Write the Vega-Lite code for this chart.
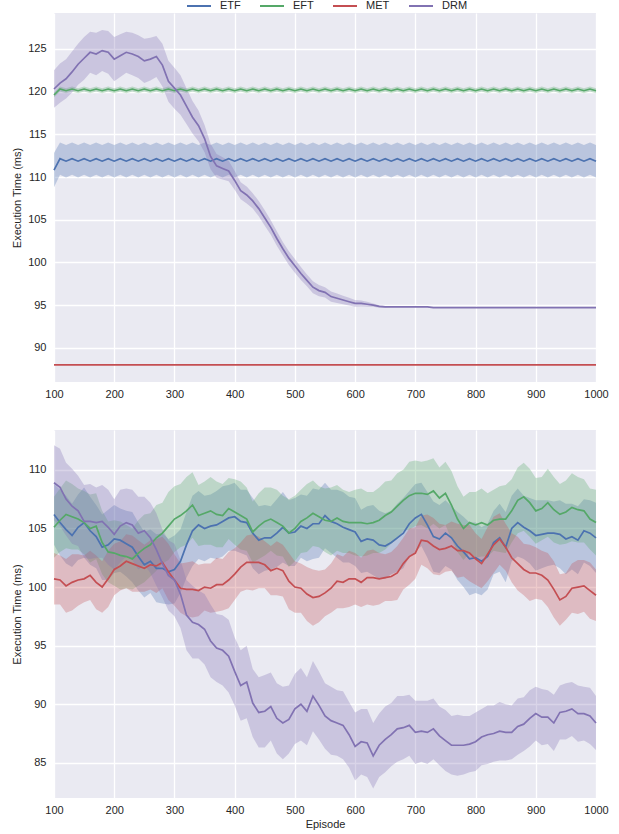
{
"$schema": "https://vega.github.io/schema/vega-lite/v6.json",
"autosize": {"type": "pad"},
"padding": {"left": 11, "top": -7, "right": 5, "bottom": 5},
"background": "#ffffff",
"spacing": 48,
"bounds": "flush",
"config": {
  "view": {"fill": "#EAEAF2", "stroke": null},
  "font": "Liberation Sans",
  "axis": {"domain": false, "ticks": false, "gridColor": "#ffffff", "gridWidth": 1.3, "labelFontSize": 11, "labelColor": "#262626", "titleFontSize": 11, "titleFontWeight": "normal", "titleColor": "#262626", "labelPadding": 6, "labelFlush": false},
  "axisY": {"titlePadding": 5, "labelPadding": 8},
  "axisX": {"titlePadding": 3, "format": "d"},
  "legend": {"symbolType": "stroke", "symbolStrokeWidth": 2, "symbolSize": 576, "labelFontSize": 11, "labelColor": "#262626", "labelOffset": 8, "columnPadding": 15, "padding": 0, "symbolOpacity": 1}
},
"datasets": {"d": [
{"p":"t","s":"ETF","x":100,"m":110.8,"w":2.0},{"p":"t","s":"ETF","x":110,"m":112.15,"w":1.9},{"p":"t","s":"ETF","x":120,"m":111.85,"w":1.9},{"p":"t","s":"ETF","x":130,"m":112.15,"w":1.9},{"p":"t","s":"ETF","x":140,"m":111.85,"w":1.9},{"p":"t","s":"ETF","x":150,"m":112.15,"w":1.9},{"p":"t","s":"ETF","x":160,"m":111.85,"w":1.9},{"p":"t","s":"ETF","x":170,"m":112.15,"w":1.9},{"p":"t","s":"ETF","x":180,"m":111.85,"w":1.9},{"p":"t","s":"ETF","x":190,"m":112.15,"w":1.9},{"p":"t","s":"ETF","x":200,"m":111.85,"w":1.9},
{"p":"t","s":"ETF","x":210,"m":112.15,"w":1.9},{"p":"t","s":"ETF","x":220,"m":111.85,"w":1.9},{"p":"t","s":"ETF","x":230,"m":112.15,"w":1.9},{"p":"t","s":"ETF","x":240,"m":111.85,"w":1.9},{"p":"t","s":"ETF","x":250,"m":112.15,"w":1.9},{"p":"t","s":"ETF","x":260,"m":111.85,"w":1.9},{"p":"t","s":"ETF","x":270,"m":112.15,"w":1.9},{"p":"t","s":"ETF","x":280,"m":111.85,"w":1.9},{"p":"t","s":"ETF","x":290,"m":112.15,"w":1.9},{"p":"t","s":"ETF","x":300,"m":111.85,"w":1.9},
{"p":"t","s":"ETF","x":310,"m":112.15,"w":1.9},{"p":"t","s":"ETF","x":320,"m":111.85,"w":1.9},{"p":"t","s":"ETF","x":330,"m":112.15,"w":1.9},{"p":"t","s":"ETF","x":340,"m":111.85,"w":1.9},{"p":"t","s":"ETF","x":350,"m":112.15,"w":1.9},{"p":"t","s":"ETF","x":360,"m":111.85,"w":1.9},{"p":"t","s":"ETF","x":370,"m":112.15,"w":1.9},{"p":"t","s":"ETF","x":380,"m":111.85,"w":1.9},{"p":"t","s":"ETF","x":390,"m":112.15,"w":1.9},{"p":"t","s":"ETF","x":400,"m":111.85,"w":1.9},
{"p":"t","s":"ETF","x":410,"m":112.15,"w":1.9},{"p":"t","s":"ETF","x":420,"m":111.85,"w":1.9},{"p":"t","s":"ETF","x":430,"m":112.15,"w":1.9},{"p":"t","s":"ETF","x":440,"m":111.85,"w":1.9},{"p":"t","s":"ETF","x":450,"m":112.15,"w":1.9},{"p":"t","s":"ETF","x":460,"m":111.85,"w":1.9},{"p":"t","s":"ETF","x":470,"m":112.15,"w":1.9},{"p":"t","s":"ETF","x":480,"m":111.85,"w":1.9},{"p":"t","s":"ETF","x":490,"m":112.15,"w":1.9},{"p":"t","s":"ETF","x":500,"m":111.85,"w":1.9},
{"p":"t","s":"ETF","x":510,"m":112.15,"w":1.9},{"p":"t","s":"ETF","x":520,"m":111.85,"w":1.9},{"p":"t","s":"ETF","x":530,"m":112.15,"w":1.9},{"p":"t","s":"ETF","x":540,"m":111.85,"w":1.9},{"p":"t","s":"ETF","x":550,"m":112.15,"w":1.9},{"p":"t","s":"ETF","x":560,"m":111.85,"w":1.9},{"p":"t","s":"ETF","x":570,"m":112.15,"w":1.9},{"p":"t","s":"ETF","x":580,"m":111.85,"w":1.9},{"p":"t","s":"ETF","x":590,"m":112.15,"w":1.9},{"p":"t","s":"ETF","x":600,"m":111.85,"w":1.9},
{"p":"t","s":"ETF","x":610,"m":112.15,"w":1.9},{"p":"t","s":"ETF","x":620,"m":111.85,"w":1.9},{"p":"t","s":"ETF","x":630,"m":112.15,"w":1.9},{"p":"t","s":"ETF","x":640,"m":111.85,"w":1.9},{"p":"t","s":"ETF","x":650,"m":112.15,"w":1.9},{"p":"t","s":"ETF","x":660,"m":111.85,"w":1.9},{"p":"t","s":"ETF","x":670,"m":112.15,"w":1.9},{"p":"t","s":"ETF","x":680,"m":111.85,"w":1.9},{"p":"t","s":"ETF","x":690,"m":112.15,"w":1.9},{"p":"t","s":"ETF","x":700,"m":111.85,"w":1.9},
{"p":"t","s":"ETF","x":710,"m":112.15,"w":1.9},{"p":"t","s":"ETF","x":720,"m":111.85,"w":1.9},{"p":"t","s":"ETF","x":730,"m":112.15,"w":1.9},{"p":"t","s":"ETF","x":740,"m":111.85,"w":1.9},{"p":"t","s":"ETF","x":750,"m":112.15,"w":1.9},{"p":"t","s":"ETF","x":760,"m":111.85,"w":1.9},{"p":"t","s":"ETF","x":770,"m":112.15,"w":1.9},{"p":"t","s":"ETF","x":780,"m":111.85,"w":1.9},{"p":"t","s":"ETF","x":790,"m":112.15,"w":1.9},{"p":"t","s":"ETF","x":800,"m":111.85,"w":1.9},
{"p":"t","s":"ETF","x":810,"m":112.15,"w":1.9},{"p":"t","s":"ETF","x":820,"m":111.85,"w":1.9},{"p":"t","s":"ETF","x":830,"m":112.15,"w":1.9},{"p":"t","s":"ETF","x":840,"m":111.85,"w":1.9},{"p":"t","s":"ETF","x":850,"m":112.15,"w":1.9},{"p":"t","s":"ETF","x":860,"m":111.85,"w":1.9},{"p":"t","s":"ETF","x":870,"m":112.15,"w":1.9},{"p":"t","s":"ETF","x":880,"m":111.85,"w":1.9},{"p":"t","s":"ETF","x":890,"m":112.15,"w":1.9},{"p":"t","s":"ETF","x":900,"m":111.85,"w":1.9},
{"p":"t","s":"ETF","x":910,"m":112.15,"w":1.9},{"p":"t","s":"ETF","x":920,"m":111.85,"w":1.9},{"p":"t","s":"ETF","x":930,"m":112.15,"w":1.9},{"p":"t","s":"ETF","x":940,"m":111.85,"w":1.9},{"p":"t","s":"ETF","x":950,"m":112.15,"w":1.9},{"p":"t","s":"ETF","x":960,"m":111.85,"w":1.9},{"p":"t","s":"ETF","x":970,"m":112.15,"w":1.9},{"p":"t","s":"ETF","x":980,"m":111.85,"w":1.9},{"p":"t","s":"ETF","x":990,"m":112.15,"w":1.9},{"p":"t","s":"ETF","x":1000,"m":111.85,"w":1.9},
{"p":"t","s":"EFT","x":100,"m":119.6,"w":0.3},{"p":"t","s":"EFT","x":110,"m":120.3,"w":0.3},{"p":"t","s":"EFT","x":120,"m":120.1,"w":0.3},{"p":"t","s":"EFT","x":130,"m":120.3,"w":0.3},{"p":"t","s":"EFT","x":140,"m":120.1,"w":0.3},{"p":"t","s":"EFT","x":150,"m":120.3,"w":0.3},{"p":"t","s":"EFT","x":160,"m":120.1,"w":0.3},{"p":"t","s":"EFT","x":170,"m":120.3,"w":0.3},{"p":"t","s":"EFT","x":180,"m":120.1,"w":0.3},{"p":"t","s":"EFT","x":190,"m":120.3,"w":0.3},{"p":"t","s":"EFT","x":200,"m":120.1,"w":0.3},
{"p":"t","s":"EFT","x":210,"m":120.3,"w":0.3},{"p":"t","s":"EFT","x":220,"m":120.1,"w":0.3},{"p":"t","s":"EFT","x":230,"m":120.3,"w":0.3},{"p":"t","s":"EFT","x":240,"m":120.1,"w":0.3},{"p":"t","s":"EFT","x":250,"m":120.3,"w":0.3},{"p":"t","s":"EFT","x":260,"m":120.1,"w":0.3},{"p":"t","s":"EFT","x":270,"m":120.3,"w":0.3},{"p":"t","s":"EFT","x":280,"m":120.1,"w":0.3},{"p":"t","s":"EFT","x":290,"m":120.3,"w":0.3},{"p":"t","s":"EFT","x":300,"m":120.1,"w":0.3},
{"p":"t","s":"EFT","x":310,"m":120.3,"w":0.3},{"p":"t","s":"EFT","x":320,"m":120.1,"w":0.3},{"p":"t","s":"EFT","x":330,"m":120.3,"w":0.3},{"p":"t","s":"EFT","x":340,"m":120.1,"w":0.3},{"p":"t","s":"EFT","x":350,"m":120.3,"w":0.3},{"p":"t","s":"EFT","x":360,"m":120.1,"w":0.3},{"p":"t","s":"EFT","x":370,"m":120.3,"w":0.3},{"p":"t","s":"EFT","x":380,"m":120.1,"w":0.3},{"p":"t","s":"EFT","x":390,"m":120.3,"w":0.3},{"p":"t","s":"EFT","x":400,"m":120.1,"w":0.3},
{"p":"t","s":"EFT","x":410,"m":120.3,"w":0.3},{"p":"t","s":"EFT","x":420,"m":120.1,"w":0.3},{"p":"t","s":"EFT","x":430,"m":120.3,"w":0.3},{"p":"t","s":"EFT","x":440,"m":120.1,"w":0.3},{"p":"t","s":"EFT","x":450,"m":120.3,"w":0.3},{"p":"t","s":"EFT","x":460,"m":120.1,"w":0.3},{"p":"t","s":"EFT","x":470,"m":120.3,"w":0.3},{"p":"t","s":"EFT","x":480,"m":120.1,"w":0.3},{"p":"t","s":"EFT","x":490,"m":120.3,"w":0.3},{"p":"t","s":"EFT","x":500,"m":120.1,"w":0.3},
{"p":"t","s":"EFT","x":510,"m":120.3,"w":0.3},{"p":"t","s":"EFT","x":520,"m":120.1,"w":0.3},{"p":"t","s":"EFT","x":530,"m":120.3,"w":0.3},{"p":"t","s":"EFT","x":540,"m":120.1,"w":0.3},{"p":"t","s":"EFT","x":550,"m":120.3,"w":0.3},{"p":"t","s":"EFT","x":560,"m":120.1,"w":0.3},{"p":"t","s":"EFT","x":570,"m":120.3,"w":0.3},{"p":"t","s":"EFT","x":580,"m":120.1,"w":0.3},{"p":"t","s":"EFT","x":590,"m":120.3,"w":0.3},{"p":"t","s":"EFT","x":600,"m":120.1,"w":0.3},
{"p":"t","s":"EFT","x":610,"m":120.3,"w":0.3},{"p":"t","s":"EFT","x":620,"m":120.1,"w":0.3},{"p":"t","s":"EFT","x":630,"m":120.3,"w":0.3},{"p":"t","s":"EFT","x":640,"m":120.1,"w":0.3},{"p":"t","s":"EFT","x":650,"m":120.3,"w":0.3},{"p":"t","s":"EFT","x":660,"m":120.1,"w":0.3},{"p":"t","s":"EFT","x":670,"m":120.3,"w":0.3},{"p":"t","s":"EFT","x":680,"m":120.1,"w":0.3},{"p":"t","s":"EFT","x":690,"m":120.3,"w":0.3},{"p":"t","s":"EFT","x":700,"m":120.1,"w":0.3},
{"p":"t","s":"EFT","x":710,"m":120.3,"w":0.3},{"p":"t","s":"EFT","x":720,"m":120.1,"w":0.3},{"p":"t","s":"EFT","x":730,"m":120.3,"w":0.3},{"p":"t","s":"EFT","x":740,"m":120.1,"w":0.3},{"p":"t","s":"EFT","x":750,"m":120.3,"w":0.3},{"p":"t","s":"EFT","x":760,"m":120.1,"w":0.3},{"p":"t","s":"EFT","x":770,"m":120.3,"w":0.3},{"p":"t","s":"EFT","x":780,"m":120.1,"w":0.3},{"p":"t","s":"EFT","x":790,"m":120.3,"w":0.3},{"p":"t","s":"EFT","x":800,"m":120.1,"w":0.3},
{"p":"t","s":"EFT","x":810,"m":120.3,"w":0.3},{"p":"t","s":"EFT","x":820,"m":120.1,"w":0.3},{"p":"t","s":"EFT","x":830,"m":120.3,"w":0.3},{"p":"t","s":"EFT","x":840,"m":120.1,"w":0.3},{"p":"t","s":"EFT","x":850,"m":120.3,"w":0.3},{"p":"t","s":"EFT","x":860,"m":120.1,"w":0.3},{"p":"t","s":"EFT","x":870,"m":120.3,"w":0.3},{"p":"t","s":"EFT","x":880,"m":120.1,"w":0.3},{"p":"t","s":"EFT","x":890,"m":120.3,"w":0.3},{"p":"t","s":"EFT","x":900,"m":120.1,"w":0.3},
{"p":"t","s":"EFT","x":910,"m":120.3,"w":0.3},{"p":"t","s":"EFT","x":920,"m":120.1,"w":0.3},{"p":"t","s":"EFT","x":930,"m":120.3,"w":0.3},{"p":"t","s":"EFT","x":940,"m":120.1,"w":0.3},{"p":"t","s":"EFT","x":950,"m":120.3,"w":0.3},{"p":"t","s":"EFT","x":960,"m":120.1,"w":0.3},{"p":"t","s":"EFT","x":970,"m":120.3,"w":0.3},{"p":"t","s":"EFT","x":980,"m":120.1,"w":0.3},{"p":"t","s":"EFT","x":990,"m":120.3,"w":0.3},{"p":"t","s":"EFT","x":1000,"m":120.1,"w":0.3},
{"p":"t","s":"MET","x":100,"m":88.0,"w":0},{"p":"t","s":"MET","x":1000,"m":88.0,"w":0},
{"p":"t","s":"DRM","x":100,"m":120.3,"w":2.2},{"p":"t","s":"DRM","x":110,"m":121.0,"w":2.3},{"p":"t","s":"DRM","x":120,"m":121.5,"w":2.3},{"p":"t","s":"DRM","x":130,"m":122.3,"w":2.4},{"p":"t","s":"DRM","x":140,"m":123.2,"w":2.4},{"p":"t","s":"DRM","x":150,"m":123.9,"w":2.5},{"p":"t","s":"DRM","x":160,"m":124.6,"w":2.4},{"p":"t","s":"DRM","x":170,"m":124.4,"w":2.5},{"p":"t","s":"DRM","x":180,"m":124.8,"w":2.4},{"p":"t","s":"DRM","x":190,"m":124.6,"w":2.5},{"p":"t","s":"DRM","x":200,"m":123.8,"w":2.6},
{"p":"t","s":"DRM","x":210,"m":124.2,"w":2.5},{"p":"t","s":"DRM","x":220,"m":124.6,"w":2.4},{"p":"t","s":"DRM","x":230,"m":124.4,"w":2.5},{"p":"t","s":"DRM","x":240,"m":124.1,"w":2.5},{"p":"t","s":"DRM","x":250,"m":123.6,"w":2.6},{"p":"t","s":"DRM","x":260,"m":123.8,"w":2.5},{"p":"t","s":"DRM","x":270,"m":124.1,"w":2.4},{"p":"t","s":"DRM","x":280,"m":123.1,"w":2.5},{"p":"t","s":"DRM","x":290,"m":121.2,"w":2.4},{"p":"t","s":"DRM","x":300,"m":120.4,"w":2.4},
{"p":"t","s":"DRM","x":310,"m":119.6,"w":2.3},{"p":"t","s":"DRM","x":320,"m":118.3,"w":2.1},{"p":"t","s":"DRM","x":330,"m":117.0,"w":1.9},{"p":"t","s":"DRM","x":340,"m":116.0,"w":1.8},{"p":"t","s":"DRM","x":350,"m":114.5,"w":1.6},{"p":"t","s":"DRM","x":360,"m":112.4,"w":1.5},{"p":"t","s":"DRM","x":370,"m":111.3,"w":1.4},{"p":"t","s":"DRM","x":380,"m":111.0,"w":1.3},{"p":"t","s":"DRM","x":390,"m":110.7,"w":1.2},{"p":"t","s":"DRM","x":400,"m":109.6,"w":1.1},
{"p":"t","s":"DRM","x":410,"m":108.4,"w":1.0},{"p":"t","s":"DRM","x":420,"m":107.9,"w":1.0},{"p":"t","s":"DRM","x":430,"m":107.2,"w":0.9},{"p":"t","s":"DRM","x":440,"m":106.3,"w":0.9},{"p":"t","s":"DRM","x":450,"m":105.2,"w":0.9},{"p":"t","s":"DRM","x":460,"m":104.1,"w":0.85},{"p":"t","s":"DRM","x":470,"m":102.8,"w":0.85},{"p":"t","s":"DRM","x":480,"m":101.6,"w":0.8},{"p":"t","s":"DRM","x":490,"m":100.5,"w":0.8},{"p":"t","s":"DRM","x":500,"m":99.6,"w":0.8},
{"p":"t","s":"DRM","x":510,"m":98.7,"w":0.75},{"p":"t","s":"DRM","x":520,"m":97.9,"w":0.7},{"p":"t","s":"DRM","x":530,"m":97.1,"w":0.7},{"p":"t","s":"DRM","x":540,"m":96.7,"w":0.65},{"p":"t","s":"DRM","x":550,"m":96.5,"w":0.6},{"p":"t","s":"DRM","x":560,"m":96.0,"w":0.6},{"p":"t","s":"DRM","x":570,"m":95.8,"w":0.55},{"p":"t","s":"DRM","x":580,"m":95.6,"w":0.5},{"p":"t","s":"DRM","x":590,"m":95.4,"w":0.45},{"p":"t","s":"DRM","x":600,"m":95.2,"w":0.4},
{"p":"t","s":"DRM","x":610,"m":95.2,"w":0.35},{"p":"t","s":"DRM","x":620,"m":95.1,"w":0.3},{"p":"t","s":"DRM","x":630,"m":95.0,"w":0.2},{"p":"t","s":"DRM","x":640,"m":94.85,"w":0.15},{"p":"t","s":"DRM","x":650,"m":94.8,"w":0.1},{"p":"t","s":"DRM","x":660,"m":94.8,"w":0.05},{"p":"t","s":"DRM","x":700,"m":94.8,"w":0.05},{"p":"t","s":"DRM","x":720,"m":94.8,"w":0.03},{"p":"t","s":"DRM","x":730,"m":94.7,"w":0.02},{"p":"t","s":"DRM","x":1000,"m":94.7,"w":0.02},

{"p":"b","s":"ETF","x":100,"m":106.2,"w":2.6},{"p":"b","s":"ETF","x":110,"m":105.5,"w":2.8},{"p":"b","s":"ETF","x":120,"m":104.9,"w":2.9},{"p":"b","s":"ETF","x":130,"m":104.4,"w":2.7},{"p":"b","s":"ETF","x":140,"m":105.1,"w":2.8},{"p":"b","s":"ETF","x":150,"m":105.5,"w":3.0},{"p":"b","s":"ETF","x":160,"m":104.8,"w":2.9},{"p":"b","s":"ETF","x":170,"m":104.3,"w":2.7},{"p":"b","s":"ETF","x":180,"m":103.4,"w":2.8},{"p":"b","s":"ETF","x":190,"m":103.6,"w":3.0},{"p":"b","s":"ETF","x":200,"m":104.1,"w":2.9},
{"p":"b","s":"ETF","x":210,"m":104.0,"w":2.7},{"p":"b","s":"ETF","x":220,"m":103.7,"w":2.8},{"p":"b","s":"ETF","x":230,"m":103.4,"w":3.0},{"p":"b","s":"ETF","x":240,"m":102.6,"w":2.9},{"p":"b","s":"ETF","x":250,"m":101.9,"w":2.8},{"p":"b","s":"ETF","x":260,"m":102.2,"w":2.7},{"p":"b","s":"ETF","x":270,"m":101.6,"w":2.9},{"p":"b","s":"ETF","x":280,"m":101.6,"w":3.0},{"p":"b","s":"ETF","x":290,"m":101.3,"w":2.8},{"p":"b","s":"ETF","x":300,"m":101.5,"w":2.9},
{"p":"b","s":"ETF","x":310,"m":102.2,"w":2.7},{"p":"b","s":"ETF","x":320,"m":103.6,"w":2.8},{"p":"b","s":"ETF","x":330,"m":104.8,"w":3.0},{"p":"b","s":"ETF","x":340,"m":105.3,"w":2.9},{"p":"b","s":"ETF","x":350,"m":105.0,"w":2.8},{"p":"b","s":"ETF","x":360,"m":105.2,"w":2.7},{"p":"b","s":"ETF","x":370,"m":105.3,"w":2.9},{"p":"b","s":"ETF","x":380,"m":105.6,"w":3.0},{"p":"b","s":"ETF","x":390,"m":105.9,"w":2.8},{"p":"b","s":"ETF","x":400,"m":106.0,"w":2.9},
{"p":"b","s":"ETF","x":410,"m":105.6,"w":2.7},{"p":"b","s":"ETF","x":420,"m":105.5,"w":2.8},{"p":"b","s":"ETF","x":430,"m":104.6,"w":3.0},{"p":"b","s":"ETF","x":440,"m":104.0,"w":2.9},{"p":"b","s":"ETF","x":450,"m":104.2,"w":2.8},{"p":"b","s":"ETF","x":460,"m":104.2,"w":2.7},{"p":"b","s":"ETF","x":470,"m":104.6,"w":2.9},{"p":"b","s":"ETF","x":480,"m":105.1,"w":3.0},{"p":"b","s":"ETF","x":490,"m":104.6,"w":2.8},{"p":"b","s":"ETF","x":500,"m":104.7,"w":2.9},
{"p":"b","s":"ETF","x":510,"m":105.2,"w":2.7},{"p":"b","s":"ETF","x":520,"m":105.0,"w":2.8},{"p":"b","s":"ETF","x":530,"m":105.4,"w":3.0},{"p":"b","s":"ETF","x":540,"m":105.4,"w":2.9},{"p":"b","s":"ETF","x":550,"m":106.1,"w":2.8},{"p":"b","s":"ETF","x":560,"m":105.6,"w":2.7},{"p":"b","s":"ETF","x":570,"m":105.4,"w":2.9},{"p":"b","s":"ETF","x":580,"m":105.1,"w":3.0},{"p":"b","s":"ETF","x":590,"m":104.9,"w":2.8},{"p":"b","s":"ETF","x":600,"m":104.7,"w":2.9},
{"p":"b","s":"ETF","x":610,"m":103.9,"w":2.7},{"p":"b","s":"ETF","x":620,"m":104.1,"w":2.8},{"p":"b","s":"ETF","x":630,"m":104.0,"w":3.0},{"p":"b","s":"ETF","x":640,"m":103.6,"w":2.9},{"p":"b","s":"ETF","x":650,"m":103.5,"w":2.8},{"p":"b","s":"ETF","x":660,"m":103.8,"w":2.7},{"p":"b","s":"ETF","x":670,"m":104.2,"w":2.9},{"p":"b","s":"ETF","x":680,"m":104.6,"w":3.0},{"p":"b","s":"ETF","x":690,"m":105.4,"w":2.8},{"p":"b","s":"ETF","x":700,"m":105.9,"w":2.9},
{"p":"b","s":"ETF","x":710,"m":106.2,"w":2.7},{"p":"b","s":"ETF","x":720,"m":105.3,"w":2.8},{"p":"b","s":"ETF","x":730,"m":104.3,"w":3.0},{"p":"b","s":"ETF","x":740,"m":104.1,"w":2.9},{"p":"b","s":"ETF","x":750,"m":104.6,"w":2.8},{"p":"b","s":"ETF","x":760,"m":104.2,"w":2.7},{"p":"b","s":"ETF","x":770,"m":103.5,"w":2.9},{"p":"b","s":"ETF","x":780,"m":103.0,"w":3.0},{"p":"b","s":"ETF","x":790,"m":102.4,"w":3.1},{"p":"b","s":"ETF","x":800,"m":102.5,"w":3.0},
{"p":"b","s":"ETF","x":810,"m":102.2,"w":2.9},{"p":"b","s":"ETF","x":820,"m":102.6,"w":2.8},{"p":"b","s":"ETF","x":830,"m":103.8,"w":2.7},{"p":"b","s":"ETF","x":840,"m":104.2,"w":2.9},{"p":"b","s":"ETF","x":850,"m":103.4,"w":3.0},{"p":"b","s":"ETF","x":860,"m":105.0,"w":2.8},{"p":"b","s":"ETF","x":870,"m":105.5,"w":2.9},{"p":"b","s":"ETF","x":880,"m":105.1,"w":2.7},{"p":"b","s":"ETF","x":890,"m":104.8,"w":2.8},{"p":"b","s":"ETF","x":900,"m":104.4,"w":3.0},
{"p":"b","s":"ETF","x":910,"m":104.5,"w":2.9},{"p":"b","s":"ETF","x":920,"m":104.6,"w":2.8},{"p":"b","s":"ETF","x":930,"m":104.6,"w":2.7},{"p":"b","s":"ETF","x":940,"m":104.5,"w":2.9},{"p":"b","s":"ETF","x":950,"m":104.1,"w":3.0},{"p":"b","s":"ETF","x":960,"m":104.3,"w":2.8},{"p":"b","s":"ETF","x":970,"m":104.0,"w":2.9},{"p":"b","s":"ETF","x":980,"m":104.8,"w":2.7},{"p":"b","s":"ETF","x":990,"m":104.6,"w":2.8},{"p":"b","s":"ETF","x":1000,"m":104.2,"w":3.0},

{"p":"b","s":"EFT","x":100,"m":105.1,"w":2.6},{"p":"b","s":"EFT","x":110,"m":105.7,"w":2.7},{"p":"b","s":"EFT","x":120,"m":106.2,"w":2.9},{"p":"b","s":"EFT","x":130,"m":106.0,"w":2.8},{"p":"b","s":"EFT","x":140,"m":105.8,"w":2.6},{"p":"b","s":"EFT","x":150,"m":105.5,"w":2.7},{"p":"b","s":"EFT","x":160,"m":105.0,"w":2.9},{"p":"b","s":"EFT","x":170,"m":105.2,"w":2.8},{"p":"b","s":"EFT","x":180,"m":103.8,"w":2.7},{"p":"b","s":"EFT","x":190,"m":103.0,"w":2.6},{"p":"b","s":"EFT","x":200,"m":102.9,"w":2.8},
{"p":"b","s":"EFT","x":210,"m":102.7,"w":2.9},{"p":"b","s":"EFT","x":220,"m":102.6,"w":2.7},{"p":"b","s":"EFT","x":230,"m":102.4,"w":2.6},{"p":"b","s":"EFT","x":240,"m":102.9,"w":2.8},{"p":"b","s":"EFT","x":250,"m":103.3,"w":2.9},{"p":"b","s":"EFT","x":260,"m":103.6,"w":2.7},{"p":"b","s":"EFT","x":270,"m":104.2,"w":2.8},{"p":"b","s":"EFT","x":280,"m":104.6,"w":2.6},{"p":"b","s":"EFT","x":290,"m":105.2,"w":2.9},{"p":"b","s":"EFT","x":300,"m":105.8,"w":2.8},
{"p":"b","s":"EFT","x":310,"m":106.1,"w":2.7},{"p":"b","s":"EFT","x":320,"m":106.5,"w":2.9},{"p":"b","s":"EFT","x":330,"m":107.0,"w":2.8},{"p":"b","s":"EFT","x":340,"m":106.1,"w":2.6},{"p":"b","s":"EFT","x":350,"m":106.3,"w":2.7},{"p":"b","s":"EFT","x":360,"m":106.5,"w":2.9},{"p":"b","s":"EFT","x":370,"m":106.2,"w":2.8},{"p":"b","s":"EFT","x":380,"m":106.1,"w":2.7},{"p":"b","s":"EFT","x":390,"m":106.7,"w":2.6},{"p":"b","s":"EFT","x":400,"m":106.4,"w":2.8},
{"p":"b","s":"EFT","x":410,"m":106.1,"w":2.9},{"p":"b","s":"EFT","x":420,"m":105.8,"w":2.7},{"p":"b","s":"EFT","x":430,"m":104.7,"w":2.6},{"p":"b","s":"EFT","x":440,"m":105.2,"w":2.8},{"p":"b","s":"EFT","x":450,"m":105.6,"w":2.9},{"p":"b","s":"EFT","x":460,"m":105.8,"w":2.7},{"p":"b","s":"EFT","x":470,"m":105.5,"w":2.8},{"p":"b","s":"EFT","x":480,"m":105.2,"w":2.6},{"p":"b","s":"EFT","x":490,"m":104.6,"w":2.9},{"p":"b","s":"EFT","x":500,"m":105.0,"w":2.8},
{"p":"b","s":"EFT","x":510,"m":105.6,"w":2.7},{"p":"b","s":"EFT","x":520,"m":105.9,"w":2.9},{"p":"b","s":"EFT","x":530,"m":106.3,"w":2.8},{"p":"b","s":"EFT","x":540,"m":106.0,"w":2.6},{"p":"b","s":"EFT","x":550,"m":105.7,"w":2.7},{"p":"b","s":"EFT","x":560,"m":105.6,"w":2.9},{"p":"b","s":"EFT","x":570,"m":105.9,"w":2.8},{"p":"b","s":"EFT","x":580,"m":105.6,"w":2.7},{"p":"b","s":"EFT","x":590,"m":105.5,"w":2.6},{"p":"b","s":"EFT","x":600,"m":105.5,"w":2.8},
{"p":"b","s":"EFT","x":610,"m":105.5,"w":2.9},{"p":"b","s":"EFT","x":620,"m":105.4,"w":2.7},{"p":"b","s":"EFT","x":630,"m":105.5,"w":2.6},{"p":"b","s":"EFT","x":640,"m":105.7,"w":2.8},{"p":"b","s":"EFT","x":650,"m":106.1,"w":2.9},{"p":"b","s":"EFT","x":660,"m":106.4,"w":2.7},{"p":"b","s":"EFT","x":670,"m":106.9,"w":2.8},{"p":"b","s":"EFT","x":680,"m":107.4,"w":2.6},{"p":"b","s":"EFT","x":690,"m":107.8,"w":2.9},{"p":"b","s":"EFT","x":700,"m":108.0,"w":2.8},
{"p":"b","s":"EFT","x":710,"m":108.0,"w":2.7},{"p":"b","s":"EFT","x":720,"m":107.9,"w":2.9},{"p":"b","s":"EFT","x":730,"m":108.2,"w":2.8},{"p":"b","s":"EFT","x":740,"m":107.6,"w":2.6},{"p":"b","s":"EFT","x":750,"m":108.0,"w":2.7},{"p":"b","s":"EFT","x":760,"m":107.0,"w":2.9},{"p":"b","s":"EFT","x":770,"m":105.8,"w":2.8},{"p":"b","s":"EFT","x":780,"m":105.0,"w":2.7},{"p":"b","s":"EFT","x":790,"m":105.5,"w":2.6},{"p":"b","s":"EFT","x":800,"m":105.3,"w":2.8},
{"p":"b","s":"EFT","x":810,"m":105.5,"w":2.9},{"p":"b","s":"EFT","x":820,"m":105.3,"w":2.7},{"p":"b","s":"EFT","x":830,"m":105.7,"w":2.6},{"p":"b","s":"EFT","x":840,"m":105.8,"w":2.8},{"p":"b","s":"EFT","x":850,"m":105.8,"w":2.9},{"p":"b","s":"EFT","x":860,"m":106.5,"w":2.7},{"p":"b","s":"EFT","x":870,"m":107.4,"w":2.8},{"p":"b","s":"EFT","x":880,"m":107.7,"w":2.9},{"p":"b","s":"EFT","x":890,"m":107.2,"w":2.9},{"p":"b","s":"EFT","x":900,"m":106.5,"w":2.8},
{"p":"b","s":"EFT","x":910,"m":106.7,"w":2.7},{"p":"b","s":"EFT","x":920,"m":107.2,"w":2.9},{"p":"b","s":"EFT","x":930,"m":106.6,"w":2.8},{"p":"b","s":"EFT","x":940,"m":106.2,"w":2.6},{"p":"b","s":"EFT","x":950,"m":106.4,"w":2.7},{"p":"b","s":"EFT","x":960,"m":106.8,"w":2.9},{"p":"b","s":"EFT","x":970,"m":106.6,"w":2.8},{"p":"b","s":"EFT","x":980,"m":106.5,"w":2.7},{"p":"b","s":"EFT","x":990,"m":105.8,"w":2.6},{"p":"b","s":"EFT","x":1000,"m":105.5,"w":2.8},

{"p":"b","s":"MET","x":100,"m":100.7,"w":2.2},{"p":"b","s":"MET","x":110,"m":100.6,"w":2.1},{"p":"b","s":"MET","x":120,"m":100.1,"w":2.3},{"p":"b","s":"MET","x":130,"m":100.4,"w":2.4},{"p":"b","s":"MET","x":140,"m":100.6,"w":2.2},{"p":"b","s":"MET","x":150,"m":100.7,"w":2.0},{"p":"b","s":"MET","x":160,"m":101.0,"w":2.1},{"p":"b","s":"MET","x":170,"m":100.4,"w":2.3},{"p":"b","s":"MET","x":180,"m":100.0,"w":2.2},{"p":"b","s":"MET","x":190,"m":100.7,"w":2.4},{"p":"b","s":"MET","x":200,"m":101.5,"w":2.2},
{"p":"b","s":"MET","x":210,"m":101.8,"w":2.1},{"p":"b","s":"MET","x":220,"m":102.2,"w":2.3},{"p":"b","s":"MET","x":230,"m":102.0,"w":2.4},{"p":"b","s":"MET","x":240,"m":101.8,"w":2.2},{"p":"b","s":"MET","x":250,"m":101.6,"w":2.0},{"p":"b","s":"MET","x":260,"m":101.9,"w":2.1},{"p":"b","s":"MET","x":270,"m":101.8,"w":2.3},{"p":"b","s":"MET","x":280,"m":102.1,"w":2.2},{"p":"b","s":"MET","x":290,"m":101.3,"w":2.4},{"p":"b","s":"MET","x":300,"m":100.6,"w":2.2},
{"p":"b","s":"MET","x":310,"m":99.9,"w":2.1},{"p":"b","s":"MET","x":320,"m":99.8,"w":2.3},{"p":"b","s":"MET","x":330,"m":99.8,"w":2.4},{"p":"b","s":"MET","x":340,"m":99.7,"w":2.2},{"p":"b","s":"MET","x":350,"m":100.0,"w":2.0},{"p":"b","s":"MET","x":360,"m":99.9,"w":2.1},{"p":"b","s":"MET","x":370,"m":100.2,"w":2.3},{"p":"b","s":"MET","x":380,"m":100.2,"w":2.2},{"p":"b","s":"MET","x":390,"m":100.6,"w":2.4},{"p":"b","s":"MET","x":400,"m":101.1,"w":2.2},
{"p":"b","s":"MET","x":410,"m":101.7,"w":2.1},{"p":"b","s":"MET","x":420,"m":102.1,"w":2.3},{"p":"b","s":"MET","x":430,"m":102.1,"w":2.4},{"p":"b","s":"MET","x":440,"m":102.1,"w":2.2},{"p":"b","s":"MET","x":450,"m":101.9,"w":2.0},{"p":"b","s":"MET","x":460,"m":101.4,"w":2.1},{"p":"b","s":"MET","x":470,"m":101.6,"w":2.3},{"p":"b","s":"MET","x":480,"m":101.4,"w":2.2},{"p":"b","s":"MET","x":490,"m":100.5,"w":2.4},{"p":"b","s":"MET","x":500,"m":100.0,"w":2.2},
{"p":"b","s":"MET","x":510,"m":99.9,"w":2.1},{"p":"b","s":"MET","x":520,"m":99.4,"w":2.3},{"p":"b","s":"MET","x":530,"m":99.1,"w":2.4},{"p":"b","s":"MET","x":540,"m":99.2,"w":2.2},{"p":"b","s":"MET","x":550,"m":99.5,"w":2.0},{"p":"b","s":"MET","x":560,"m":99.9,"w":2.1},{"p":"b","s":"MET","x":570,"m":100.5,"w":2.3},{"p":"b","s":"MET","x":580,"m":100.4,"w":2.2},{"p":"b","s":"MET","x":590,"m":100.7,"w":2.4},{"p":"b","s":"MET","x":600,"m":100.7,"w":2.2},
{"p":"b","s":"MET","x":610,"m":100.4,"w":2.1},{"p":"b","s":"MET","x":620,"m":100.8,"w":2.3},{"p":"b","s":"MET","x":630,"m":100.8,"w":2.4},{"p":"b","s":"MET","x":640,"m":100.7,"w":2.2},{"p":"b","s":"MET","x":650,"m":100.8,"w":2.0},{"p":"b","s":"MET","x":660,"m":100.9,"w":2.1},{"p":"b","s":"MET","x":670,"m":101.2,"w":2.3},{"p":"b","s":"MET","x":680,"m":102.0,"w":2.2},{"p":"b","s":"MET","x":690,"m":102.6,"w":2.4},{"p":"b","s":"MET","x":700,"m":102.9,"w":2.2},
{"p":"b","s":"MET","x":710,"m":104.0,"w":2.1},{"p":"b","s":"MET","x":720,"m":103.9,"w":2.3},{"p":"b","s":"MET","x":730,"m":103.5,"w":2.4},{"p":"b","s":"MET","x":740,"m":103.2,"w":2.2},{"p":"b","s":"MET","x":750,"m":103.3,"w":2.0},{"p":"b","s":"MET","x":760,"m":103.5,"w":2.1},{"p":"b","s":"MET","x":770,"m":103.1,"w":2.3},{"p":"b","s":"MET","x":780,"m":103.1,"w":2.2},{"p":"b","s":"MET","x":790,"m":102.9,"w":2.4},{"p":"b","s":"MET","x":800,"m":102.4,"w":2.2},
{"p":"b","s":"MET","x":810,"m":102.0,"w":2.1},{"p":"b","s":"MET","x":820,"m":102.8,"w":2.3},{"p":"b","s":"MET","x":830,"m":103.6,"w":2.4},{"p":"b","s":"MET","x":840,"m":104.1,"w":2.2},{"p":"b","s":"MET","x":850,"m":103.4,"w":2.0},{"p":"b","s":"MET","x":860,"m":102.5,"w":2.1},{"p":"b","s":"MET","x":870,"m":102.0,"w":2.3},{"p":"b","s":"MET","x":880,"m":101.5,"w":2.2},{"p":"b","s":"MET","x":890,"m":101.2,"w":2.4},{"p":"b","s":"MET","x":900,"m":101.2,"w":2.2},
{"p":"b","s":"MET","x":910,"m":101.0,"w":2.1},{"p":"b","s":"MET","x":920,"m":100.6,"w":2.3},{"p":"b","s":"MET","x":930,"m":99.8,"w":2.4},{"p":"b","s":"MET","x":940,"m":98.9,"w":2.2},{"p":"b","s":"MET","x":950,"m":99.2,"w":2.0},{"p":"b","s":"MET","x":960,"m":99.9,"w":2.1},{"p":"b","s":"MET","x":970,"m":100.0,"w":2.3},{"p":"b","s":"MET","x":980,"m":100.1,"w":2.2},{"p":"b","s":"MET","x":990,"m":99.7,"w":2.4},{"p":"b","s":"MET","x":1000,"m":99.3,"w":2.2},

{"p":"b","s":"DRM","x":100,"m":108.9,"w":3.2},{"p":"b","s":"DRM","x":110,"m":108.5,"w":3.3},{"p":"b","s":"DRM","x":120,"m":107.5,"w":3.1},{"p":"b","s":"DRM","x":130,"m":106.9,"w":3.2},{"p":"b","s":"DRM","x":140,"m":106.5,"w":3.0},{"p":"b","s":"DRM","x":150,"m":105.6,"w":3.1},{"p":"b","s":"DRM","x":160,"m":105.6,"w":3.2},{"p":"b","s":"DRM","x":170,"m":105.5,"w":3.0},{"p":"b","s":"DRM","x":180,"m":105.6,"w":3.1},{"p":"b","s":"DRM","x":190,"m":105.1,"w":3.2},{"p":"b","s":"DRM","x":200,"m":104.5,"w":3.0},
{"p":"b","s":"DRM","x":210,"m":105.2,"w":3.1},{"p":"b","s":"DRM","x":220,"m":105.5,"w":2.9},{"p":"b","s":"DRM","x":230,"m":105.3,"w":3.0},{"p":"b","s":"DRM","x":240,"m":104.6,"w":3.1},{"p":"b","s":"DRM","x":250,"m":104.8,"w":2.9},{"p":"b","s":"DRM","x":260,"m":104.2,"w":3.0},{"p":"b","s":"DRM","x":270,"m":103.2,"w":3.1},{"p":"b","s":"DRM","x":280,"m":102.0,"w":2.9},{"p":"b","s":"DRM","x":290,"m":101.0,"w":3.0},{"p":"b","s":"DRM","x":300,"m":100.6,"w":3.1},
{"p":"b","s":"DRM","x":310,"m":99.4,"w":2.9},{"p":"b","s":"DRM","x":320,"m":97.6,"w":3.0},{"p":"b","s":"DRM","x":330,"m":97.0,"w":3.1},{"p":"b","s":"DRM","x":340,"m":96.8,"w":2.9},{"p":"b","s":"DRM","x":350,"m":96.4,"w":3.0},{"p":"b","s":"DRM","x":360,"m":95.4,"w":3.1},{"p":"b","s":"DRM","x":370,"m":94.8,"w":2.9},{"p":"b","s":"DRM","x":380,"m":94.6,"w":3.0},{"p":"b","s":"DRM","x":390,"m":94.1,"w":3.1},{"p":"b","s":"DRM","x":400,"m":92.8,"w":2.9},
{"p":"b","s":"DRM","x":410,"m":91.6,"w":3.0},{"p":"b","s":"DRM","x":420,"m":91.9,"w":3.1},{"p":"b","s":"DRM","x":430,"m":90.1,"w":2.9},{"p":"b","s":"DRM","x":440,"m":89.3,"w":3.0},{"p":"b","s":"DRM","x":450,"m":89.4,"w":3.1},{"p":"b","s":"DRM","x":460,"m":89.8,"w":2.9},{"p":"b","s":"DRM","x":470,"m":88.8,"w":3.0},{"p":"b","s":"DRM","x":480,"m":88.4,"w":3.1},{"p":"b","s":"DRM","x":490,"m":88.7,"w":2.9},{"p":"b","s":"DRM","x":500,"m":89.6,"w":3.0},
{"p":"b","s":"DRM","x":510,"m":90.0,"w":3.1},{"p":"b","s":"DRM","x":520,"m":89.4,"w":2.9},{"p":"b","s":"DRM","x":530,"m":90.7,"w":3.0},{"p":"b","s":"DRM","x":540,"m":89.9,"w":2.9},{"p":"b","s":"DRM","x":550,"m":89.0,"w":2.8},{"p":"b","s":"DRM","x":560,"m":88.6,"w":2.9},{"p":"b","s":"DRM","x":570,"m":88.4,"w":2.8},{"p":"b","s":"DRM","x":580,"m":88.2,"w":2.9},{"p":"b","s":"DRM","x":590,"m":87.4,"w":2.8},{"p":"b","s":"DRM","x":600,"m":86.4,"w":2.9},
{"p":"b","s":"DRM","x":610,"m":86.8,"w":2.8},{"p":"b","s":"DRM","x":620,"m":86.7,"w":2.9},{"p":"b","s":"DRM","x":630,"m":85.6,"w":2.8},{"p":"b","s":"DRM","x":640,"m":86.5,"w":2.7},{"p":"b","s":"DRM","x":650,"m":87.0,"w":2.8},{"p":"b","s":"DRM","x":660,"m":87.4,"w":2.7},{"p":"b","s":"DRM","x":670,"m":87.9,"w":2.8},{"p":"b","s":"DRM","x":680,"m":88.0,"w":2.7},{"p":"b","s":"DRM","x":690,"m":88.2,"w":2.6},{"p":"b","s":"DRM","x":700,"m":87.6,"w":2.7},
{"p":"b","s":"DRM","x":710,"m":87.7,"w":2.6},{"p":"b","s":"DRM","x":720,"m":87.6,"w":2.7},{"p":"b","s":"DRM","x":730,"m":87.9,"w":2.6},{"p":"b","s":"DRM","x":740,"m":87.3,"w":2.5},{"p":"b","s":"DRM","x":750,"m":86.9,"w":2.6},{"p":"b","s":"DRM","x":760,"m":86.5,"w":2.5},{"p":"b","s":"DRM","x":770,"m":86.5,"w":2.6},{"p":"b","s":"DRM","x":780,"m":86.5,"w":2.5},{"p":"b","s":"DRM","x":790,"m":86.6,"w":2.4},{"p":"b","s":"DRM","x":800,"m":86.8,"w":2.5},
{"p":"b","s":"DRM","x":810,"m":87.2,"w":2.4},{"p":"b","s":"DRM","x":820,"m":87.4,"w":2.5},{"p":"b","s":"DRM","x":830,"m":87.5,"w":2.4},{"p":"b","s":"DRM","x":840,"m":87.7,"w":2.5},{"p":"b","s":"DRM","x":850,"m":87.6,"w":2.4},{"p":"b","s":"DRM","x":860,"m":87.6,"w":2.3},{"p":"b","s":"DRM","x":870,"m":88.1,"w":2.4},{"p":"b","s":"DRM","x":880,"m":88.3,"w":2.3},{"p":"b","s":"DRM","x":890,"m":88.8,"w":2.4},{"p":"b","s":"DRM","x":900,"m":89.2,"w":2.3},
{"p":"b","s":"DRM","x":910,"m":88.9,"w":2.4},{"p":"b","s":"DRM","x":920,"m":88.9,"w":2.3},{"p":"b","s":"DRM","x":930,"m":88.4,"w":2.4},{"p":"b","s":"DRM","x":940,"m":89.3,"w":2.3},{"p":"b","s":"DRM","x":950,"m":89.4,"w":2.4},{"p":"b","s":"DRM","x":960,"m":89.6,"w":2.3},{"p":"b","s":"DRM","x":970,"m":89.2,"w":2.4},{"p":"b","s":"DRM","x":980,"m":89.2,"w":2.3},{"p":"b","s":"DRM","x":990,"m":89.0,"w":2.4},{"p":"b","s":"DRM","x":1000,"m":88.4,"w":2.3}
]},
"vconcat": [
  {
    "width": 542, "height": 369,
    "data": {"name": "d"},
    "transform": [{"filter": {"field": "p", "equal": "t"}}],
    "layer": [
      {
        "mark": {"type": "errorband", "band": {"opacity": 0.3}},
        "encoding": {
          "x": {"field": "x", "type": "quantitative", "scale": {"domain": [100, 1000], "nice": false, "zero": false}, "axis": {"values": [100,200,300,400,500,600,700,800,900,1000], "title": null}},
          "y": {"field": "m", "type": "quantitative", "scale": {"domain": [86, 129.2], "nice": false, "zero": false}, "axis": {"values": [90,95,100,105,110,115,120,125], "title": "Execution Time (ms)"}},
          "yError": {"field": "w"},
          "color": {"field": "s", "type": "nominal", "scale": {"domain": ["ETF","EFT","MET","DRM"], "range": ["#4C72B0","#55A868","#C44E52","#8172B2"]}, "legend": {"orient": "none", "direction": "horizontal", "legendX": 132, "legendY": -20, "title": null}}
        }
      },
      {
        "mark": {"type": "line", "strokeWidth": 1.7},
        "encoding": {
          "x": {"field": "x", "type": "quantitative"},
          "y": {"field": "m", "type": "quantitative"},
          "color": {"field": "s", "type": "nominal"}
        }
      }
    ]
  },
  {
    "width": 542, "height": 368,
    "data": {"name": "d"},
    "transform": [{"filter": {"field": "p", "equal": "b"}}],
    "layer": [
      {
        "mark": {"type": "errorband", "band": {"opacity": 0.3}},
        "encoding": {
          "x": {"field": "x", "type": "quantitative", "scale": {"domain": [100, 1000], "nice": false, "zero": false}, "axis": {"values": [100,200,300,400,500,600,700,800,900,1000], "title": "Episode"}},
          "y": {"field": "m", "type": "quantitative", "scale": {"domain": [82, 113.4], "nice": false, "zero": false}, "axis": {"values": [85,90,95,100,105,110], "title": "Execution Time (ms)"}},
          "yError": {"field": "w"},
          "color": {"field": "s", "type": "nominal"}
        }
      },
      {
        "mark": {"type": "line", "strokeWidth": 1.7},
        "encoding": {
          "x": {"field": "x", "type": "quantitative"},
          "y": {"field": "m", "type": "quantitative"},
          "color": {"field": "s", "type": "nominal"}
        }
      }
    ]
  }
]
}
